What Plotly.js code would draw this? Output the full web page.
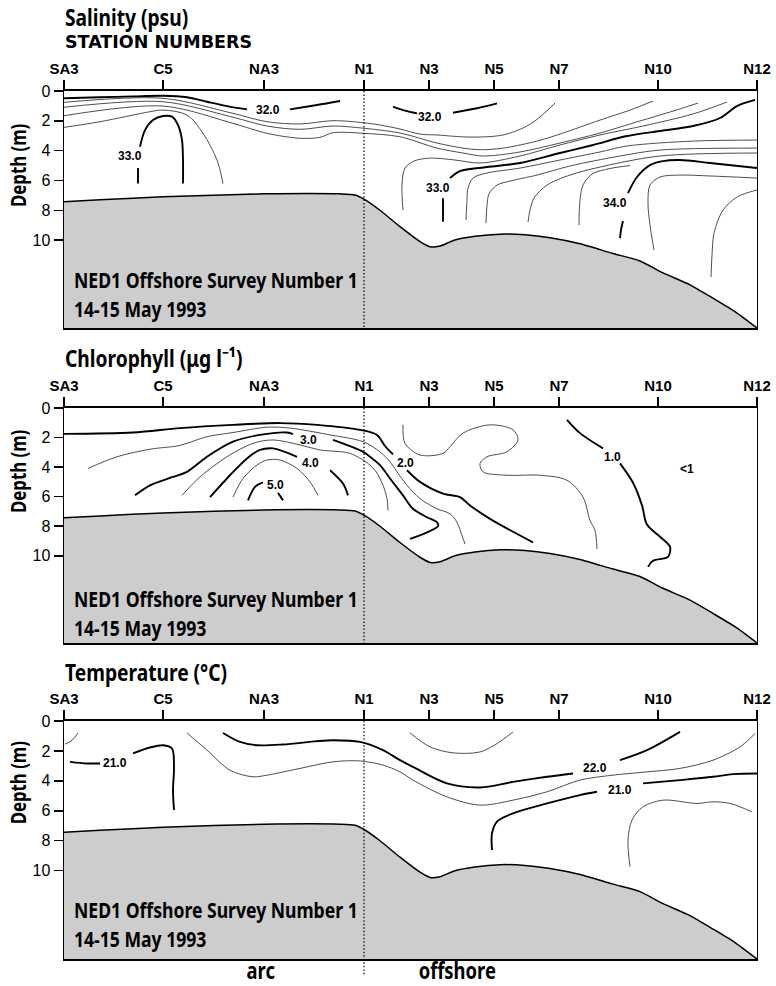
<!DOCTYPE html>
<html><head><meta charset="utf-8">
<script src="https://cdn.plot.ly/plotly-3.0.1.min.js"></script>
<style>html,body{margin:0;padding:0;background:#fff}</style>
</head><body><div id="chart" style="width:776px;height:986px"></div>
<script>
// ---------- stations (distance units along section) ----------
const stationNames = ['SA3','C5','NA3','N1','N3','N5','N7','N10','N12'];
const stationPos   = [0, 9.9, 20.0, 30.0, 36.5, 43.0, 49.5, 59.4, 69.3];
const depthTicks   = [0, 2, 4, 6, 8, 10];
const depthMax     = 15.9;
const shelfBreakStation = 30.0; // N1

// ---------- bathymetry ----------
const bathyX = [0, 3.6, 9.9, 20.0, 27.6, 29.1, 30.0, 31.6, 33.6, 35.6, 36.6, 37.6, 39.1, 41.1, 43.6, 46.1, 48.6, 51.6, 54.9, 57.6, 59.9, 62.6, 64.9, 67.1, 69.3];
const bathyD = [7.43, 7.3, 7.1, 6.9, 6.9, 6.97, 7.25, 8.0, 9.1, 10.1, 10.45, 10.4, 10.0, 9.75, 9.6, 9.65, 9.85, 10.25, 10.9, 11.4, 12.2, 13.0, 13.9, 14.8, 15.9];

// ---------- salinity isolines ----------
const salMajorX = [
  [0.0, 3.6, 6.9, 9.9, 12.3, 14.3, 16.3, 18.3],
  [22.6, 25.3, 27.6],
  [32.9, 34.1, 35.3],
  [38.9, 41.3, 43.3],
  [7.4, 7.4],
  [7.6, 8.1, 8.9, 9.9, 10.8, 11.4, 11.8, 11.9, 11.9],
  [37.9, 37.9],
  [38.6, 39.6, 42.3, 45.6, 49.6, 52.9, 56.3, 59.6, 62.9, 65.6, 67.3, 69.1],
  [55.6, 55.7, 55.9],
  [56.4, 57.3, 58.6, 59.9, 61.6, 64.6, 69.3]
];
const salMajorD = [
  [0.49, 0.42, 0.36, 0.32, 0.42, 0.72, 1.01, 1.23],
  [1.23, 0.94, 0.67],
  [1.05, 1.32, 1.50],
  [1.46, 1.16, 0.83],
  [6.20, 5.17],
  [3.74, 2.62, 1.95, 1.68, 1.72, 2.28, 3.29, 4.63, 6.20],
  [8.77, 7.20],
  [5.84, 5.37, 5.10, 4.83, 4.16, 3.62, 3.02, 2.68, 2.35, 1.81, 1.01, 0.60],
  [9.87, 9.33, 8.72],
  [6.85, 5.77, 4.97, 4.70, 4.63, 4.83, 5.17]
];
const salMinorX = [
  [0, 9.9, 16.9, 20.3, 23.6, 26.9, 30.0, 31.6, 33.6, 35.6, 37.3, 40.6, 43.9, 46.3, 47.6, 49.1],
  [0, 9.9, 16.9, 20.3, 23.6, 26.9, 30.0, 33.6, 37.3, 39.9, 41.6, 43.9, 47.3, 49.6, 53.6, 56.6, 58.9],
  [0, 9.9, 16.9, 20.3, 23.6, 25.6, 26.9, 30.0, 33.6, 37.3, 39.9, 41.9, 45.6, 49.6, 53.6, 57.6, 60.6, 63.4],
  [0, 3.6, 8.6, 9.9, 12.3, 13.9, 15.3, 15.9],
  [33.9, 33.8, 34.1, 35.0, 36.6, 39.1, 41.6, 45.6, 49.6, 53.6, 57.9, 62.9, 66.3],
  [40.2, 40.3, 40.4, 40.9, 42.3, 45.6, 49.6, 53.6, 56.3, 62.9, 69.3],
  [42.2, 42.3, 42.5, 43.3, 44.6, 47.3, 50.6, 55.6, 59.6, 69.3],
  [46.4, 46.6, 47.0, 48.3, 50.6, 53.6, 59.6, 69.3],
  [51.5, 51.6, 51.9, 52.8, 54.6, 56.6],
  [59.0, 58.6, 58.4, 58.6, 59.6, 61.6, 64.6, 69.3],
  [64.7, 64.8, 65.0, 65.9, 67.3, 69.3]
];
const salMinorD = [
  [0.76, 0.49, 1.50, 2.06, 2.21, 1.99, 2.13, 2.28, 2.55, 2.89, 2.95, 3.09, 2.95, 2.35, 1.74, 0.81],
  [1.09, 0.72, 1.76, 2.35, 2.57, 2.35, 2.50, 2.82, 3.49, 3.83, 3.94, 3.83, 3.36, 2.89, 1.95, 1.28, 0.67],
  [1.66, 1.01, 2.17, 2.84, 3.17, 3.11, 2.80, 2.84, 3.07, 3.83, 4.16, 4.36, 4.09, 3.49, 2.82, 2.01, 1.41, 0.81],
  [2.44, 2.06, 1.39, 1.28, 1.61, 2.84, 4.63, 6.20],
  [7.99, 6.31, 5.17, 4.70, 4.50, 4.63, 4.83, 4.36, 3.62, 2.95, 2.35, 1.54, 0.74],
  [8.66, 7.32, 6.51, 5.84, 5.50, 5.17, 4.63, 4.09, 3.69, 3.36, 3.29],
  [8.86, 7.65, 6.91, 6.31, 6.04, 5.64, 5.03, 4.36, 3.96, 3.83],
  [8.79, 7.99, 7.18, 6.31, 5.64, 5.10, 4.36, 4.16],
  [8.99, 7.32, 6.31, 5.57, 5.20, 5.00],
  [10.67, 8.99, 7.52, 6.31, 5.77, 5.64, 5.70, 5.84],
  [12.48, 11.01, 9.53, 7.99, 7.11, 6.64]
];
const salLabelText = ['32.0', '32.0', '33.0', '33.0', '34.0'];
const salLabelX    = [20.4, 36.6, 6.6, 37.4, 55.1];
const salLabelD    = [1.30, 1.72, 4.38, 6.51, 7.54];

// ---------- chlorophyll isolines ----------
const chlMajorX = [
  [0, 6.9, 11.6, 16.9, 21.6, 25.3, 29.6, 31.3, 32.1, 32.9],
  [34.3, 35.6, 37.9, 39.6, 40.6, 42.6, 46.9],
  [7.1, 8.6, 10.9, 12.3, 14.3, 16.9, 19.6, 22.3, 22.9],
  [26.9, 29.9, 30.6, 31.6, 32.6, 33.9, 34.9, 36.3, 37.3, 37.4, 36.3, 34.6],
  [14.6, 16.6, 18.3, 19.6, 20.9, 23.3],
  [26.6, 27.9, 28.4],
  [18.4, 19.1, 19.9],
  [21.4, 21.9],
  [50.3, 51.6, 53.9],
  [55.6, 56.9, 57.8, 58.3, 59.6, 60.6, 60.4, 58.9, 58.4]
];
const chlMajorD = [
  [1.75, 1.66, 1.36, 1.14, 1.02, 1.14, 1.48, 1.82, 2.57, 3.14],
  [4.21, 5.00, 5.79, 6.03, 6.59, 7.50, 9.09],
  [5.91, 5.23, 4.66, 4.32, 3.30, 2.28, 1.82, 1.66, 1.77],
  [2.16, 2.96, 3.30, 3.86, 4.77, 5.91, 6.82, 7.39, 7.73, 8.00, 8.41, 8.86],
  [6.03, 4.55, 3.41, 2.84, 2.73, 3.30],
  [4.21, 5.11, 5.91],
  [6.25, 5.34, 5.04],
  [5.73, 6.25],
  [0.80, 1.70, 2.73],
  [3.75, 5.06, 6.59, 7.89, 8.71, 9.39, 10.07, 10.34, 10.75]
];
const chlMinorX = [
  [2.4, 5.3, 8.6, 11.3, 12.3, 14.3, 16.9, 20.3, 22.6, 26.6, 29.9, 31.6, 32.6, 33.3, 34.3, 35.6, 37.3, 38.6, 39.3, 39.8, 40.1],
  [11.8, 13.6, 16.3, 18.9, 20.9, 23.6, 25.6, 28.6, 30.6, 31.3, 31.9, 32.3, 32.4],
  [16.9, 17.9, 19.3, 20.3, 21.6, 23.3, 24.6, 25.4],
  [33.9, 34.1, 35.6, 37.9, 38.6, 39.9, 42.6, 44.9, 45.4, 44.3, 42.3, 41.6, 41.9, 44.3, 47.6, 50.3, 51.9, 52.6, 53.1, 53.3]
];
const chlMinorD = [
  [4.09, 3.30, 2.79, 2.57, 2.39, 1.94, 1.66, 1.30, 1.36, 1.82, 2.28, 2.96, 3.64, 4.32, 5.23, 6.13, 6.82, 7.16, 7.73, 8.64, 9.20],
  [5.91, 4.66, 3.30, 2.39, 2.16, 2.50, 2.84, 3.07, 3.86, 4.41, 5.23, 6.12, 6.93],
  [6.03, 4.77, 3.86, 3.52, 3.52, 4.09, 5.00, 5.91],
  [1.14, 2.39, 3.18, 3.07, 2.62, 1.70, 1.14, 1.48, 2.16, 2.96, 3.30, 3.75, 4.32, 4.55, 4.55, 4.89, 6.03, 7.61, 8.29, 9.54]
];
const chlLabelText = ['3.0', '4.0', '5.0', '2.0', '1.0', '<1'];
const chlLabelX    = [24.4, 24.6, 21.1, 34.1, 54.8, 62.3];
const chlLabelD    = [2.16, 3.75, 5.18, 3.75, 3.30, 4.16];

// ---------- temperature isolines ----------
const tmpMajorX = [
  [0.6, 2.3, 3.6],
  [6.9, 8.6, 9.9, 10.8, 11.0, 10.9, 11.0],
  [15.9, 17.6, 19.3, 21.9, 25.3, 26.9, 29.6, 31.9, 33.6, 34.9, 38.3, 41.6, 44.9, 48.3, 50.9],
  [55.6, 58.3, 61.6],
  [42.8, 42.8, 43.3, 44.9, 48.3, 51.6, 53.3],
  [57.9, 61.6, 64.9, 66.9, 69.3]
];
const tmpMajorD = [
  [2.73, 2.84, 2.84],
  [2.17, 1.77, 1.62, 1.84, 3.07, 4.62, 5.95],
  [0.80, 1.40, 1.62, 1.57, 1.35, 1.29, 1.40, 1.95, 2.62, 3.07, 4.17, 4.44, 4.07, 3.73, 3.51],
  [2.62, 1.95, 0.73],
  [8.62, 7.51, 6.73, 6.17, 5.51, 4.95, 4.73],
  [4.17, 3.95, 3.73, 3.55, 3.51]
];
const tmpMinorX = [
  [0.1, 0.8, 1.4],
  [12.3, 14.3, 16.6, 18.9, 20.3, 23.6, 26.9, 29.6, 31.9, 33.6, 34.9, 38.3, 41.6, 44.9, 48.3, 51.6, 54.9, 58.3, 61.6, 64.9, 67.6, 69.1],
  [34.6, 36.6, 38.9, 41.6, 43.3, 44.9],
  [56.6, 56.4, 56.8, 57.9, 59.9, 63.3, 64.9, 66.6, 68.8]
];
const tmpMinorD = [
  [1.55, 1.29, 0.80],
  [0.80, 1.95, 3.29, 3.73, 3.62, 3.17, 2.73, 2.67, 2.95, 3.40, 3.95, 5.07, 5.62, 5.29, 4.73, 3.95, 3.62, 3.40, 3.17, 2.62, 1.73, 0.84],
  [0.80, 1.73, 2.13, 2.07, 1.51, 0.73],
  [9.73, 7.95, 6.62, 5.73, 5.29, 5.51, 5.40, 5.51, 6.07]
];
const tmpLabelText = ['21.0', '22.0', '21.0'];
const tmpLabelX    = [5.1, 53.1, 55.6];
const tmpLabelD    = [2.84, 3.11, 4.62];

const panelTitles = ['Salinity (psu)', 'Chlorophyll (\u03bcg l\u207b\u00b9)', 'Temperature (\u00b0C)'];
const surveyText = 'NED1 Offshore Survey Number 1<br>14-15 May 1993';

// ---------- build ----------
const NARROW = "'Noto Sans', 'Open Sans', sans-serif";
const SANS = "'Liberation Sans', Arial, Helvetica, sans-serif";
const xMax = stationPos[stationPos.length - 1];
const CONDENSE = 0.8;

const panels = [
  {sfx: '',  dom: [0.6673, 0.9077], majX: salMajorX, majD: salMajorD, minX: salMinorX, minD: salMinorD,
   lt: salLabelText, lx: salLabelX, ld: salLabelD, title: panelTitles[0], titleY: 0.9833, depthLab: 4.99, ned: 13.55},
  {sfx: '2', dom: [0.3479, 0.5862], majX: chlMajorX, majD: chlMajorD, minX: chlMinorX, minD: chlMinorD,
   lt: chlLabelText, lx: chlLabelX, ld: chlLabelD, title: panelTitles[1], titleY: 0.6379, depthLab: 4.29, ned: 13.83},
  {sfx: '3', dom: [0.0274, 0.2688], majX: tmpMajorX, majD: tmpMajorD, minX: tmpMinorX, minD: tmpMinorD,
   lt: tmpLabelText, lx: tmpLabelX, ld: tmpLabelD, title: panelTitles[2], titleY: 0.3185, depthLab: 4.13, ned: 13.5}
];

const traces = [];
const annotations = [];
const shapes = [];
const layout = {
  width: 776, height: 986,
  margin: {l: 64, r: 19, t: 0, b: 0},
  paper_bgcolor: '#fff', plot_bgcolor: '#fff',
  showlegend: false,
  font: {family: SANS, color: '#000'}
};

panels.forEach((p, i) => {
  const xa = 'x' + p.sfx, ya = 'y' + p.sfx;
  traces.push({type: 'scatter', mode: 'lines', x: [0, xMax], y: [depthMax, depthMax], xaxis: xa, yaxis: ya,
    line: {width: 0, color: 'rgba(0,0,0,0)'}, hoverinfo: 'skip'});
  traces.push({type: 'scatter', mode: 'lines', x: bathyX, y: bathyD, xaxis: xa, yaxis: ya,
    fill: 'tonexty', fillcolor: '#cdcdcd', line: {color: '#000', width: 1.5, shape: 'spline', smoothing: 0.6}, hoverinfo: 'skip'});
  p.minX.forEach((xs, k) => traces.push({type: 'scatter', mode: 'lines', x: xs, y: p.minD[k], xaxis: xa, yaxis: ya,
    line: {color: '#3a3a3a', width: 0.9, shape: 'spline', smoothing: 0.9}, hoverinfo: 'skip'}));
  p.majX.forEach((xs, k) => traces.push({type: 'scatter', mode: 'lines', x: xs, y: p.majD[k], xaxis: xa, yaxis: ya,
    line: {color: '#000', width: 1.9, shape: 'spline', smoothing: 0.9}, hoverinfo: 'skip'}));

  p.lt.forEach((t, k) => annotations.push({xref: xa, yref: ya, x: p.lx[k], y: p.ld[k], text: t, showarrow: false,
    font: {family: SANS, size: 12, weight: 'bold', color: '#000'}, xanchor: 'center', yanchor: 'middle'}));

  const axName = i === 0 ? '' : String(i + 1);
  layout['xaxis' + axName] = {
    range: [0, xMax], side: 'top', anchor: ya, domain: [0, 1],
    tickmode: 'array', tickvals: stationPos, ticktext: stationNames,
    ticks: 'outside', ticklen: 9, tickwidth: 1.5, tickcolor: '#000',
    showline: true, mirror: true, linecolor: '#000', linewidth: 1.6,
    showgrid: false, zeroline: false, fixedrange: true,
    tickfont: {family: SANS, size: 15, weight: 'bold', color: '#000'}
  };
  layout['yaxis' + axName] = {
    range: [depthMax, 0], domain: p.dom, anchor: xa,
    tickmode: 'array', tickvals: depthTicks,
    ticks: 'outside', ticklen: 9, tickwidth: 1.5, tickcolor: '#000',
    showline: true, mirror: true, linecolor: '#000', linewidth: 1.4,
    showgrid: false, zeroline: false, fixedrange: true,
    tickfont: {family: SANS, size: 16, color: '#000'}
  };

  annotations.push({xref: 'paper', yref: 'paper', x: -0.002, y: p.titleY, text: p.title, showarrow: false, align: 'left',
    xanchor: 'left', yanchor: 'middle', font: {family: NARROW, size: 24, weight: 'bold', color: '#000'}});
  annotations.push({xref: 'paper', yref: ya, x: -0.0664, y: p.depthLab, text: 'Depth (m)', textangle: -90, showarrow: false,
    xanchor: 'center', yanchor: 'middle', font: {family: NARROW, size: 21, weight: 'bold', color: '#000'}});
  annotations.push({xref: xa, yref: ya, x: 0.8, y: p.ned, text: surveyText, showarrow: false, align: 'left',
    xanchor: 'left', yanchor: 'middle', font: {family: NARROW, size: 22, weight: 'bold', color: '#000'}});

  if (i < 2) {
    shapes.push({type: 'line', xref: xa, yref: ya, x0: shelfBreakStation, x1: shelfBreakStation, y0: 0, y1: depthMax,
      line: {color: '#000', width: 1.2, dash: '1.5px,2px'}});
  } else {
    shapes.push({type: 'line', xref: xa, yref: 'paper', x0: shelfBreakStation, x1: shelfBreakStation, y0: 0.012, y1: p.dom[1],
      line: {color: '#000', width: 1.2, dash: '1.5px,2px'}});
  }
});

annotations.push({xref: 'paper', yref: 'paper', x: -0.002, y: 0.9574, text: 'STATION NUMBERS', showarrow: false, align: 'left',
  xanchor: 'left', yanchor: 'middle', font: {family: "'DejaVu Sans', sans-serif", size: 17.5, weight: 'bold', color: '#000'}});
annotations.push({xref: 'paper', yref: 'paper', x: 0.2843, y: 0.016, text: 'arc', showarrow: false,
  xanchor: 'center', yanchor: 'middle', font: {family: NARROW, size: 23, weight: 'bold', color: '#000'}});
annotations.push({xref: 'paper', yref: 'paper', x: 0.5675, y: 0.016, text: 'offshore', showarrow: false,
  xanchor: 'center', yanchor: 'middle', font: {family: NARROW, size: 23, weight: 'bold', color: '#000'}});

layout.annotations = annotations;
layout.shapes = shapes;

// texts set in a condensed grotesque in the original: squeeze them horizontally about their anchor
const condensedTexts = new Set(panelTitles.concat(['Depth (m)', surveyText, 'arc', 'offshore']));

Plotly.newPlot('chart', traces, layout, {displayModeBar: false, staticPlot: true}).then(() => {
  document.querySelectorAll('#chart text.annotation-text').forEach(el => {
    const raw = el.getAttribute('data-unformatted');
    if (!condensedTexts.has(raw)) return;
    const bb = el.getBBox();
    const anchor = el.getAttribute('text-anchor') || 'start';
    const x0 = anchor === 'middle' ? bb.x + bb.width / 2 : (anchor === 'end' ? bb.x + bb.width : bb.x);
    const prev = el.getAttribute('transform') || '';
    el.setAttribute('transform', prev + ' translate(' + x0 + ',0) scale(' + CONDENSE + ',1) translate(' + (-x0) + ',0)');
  });
});
</script></body></html>
